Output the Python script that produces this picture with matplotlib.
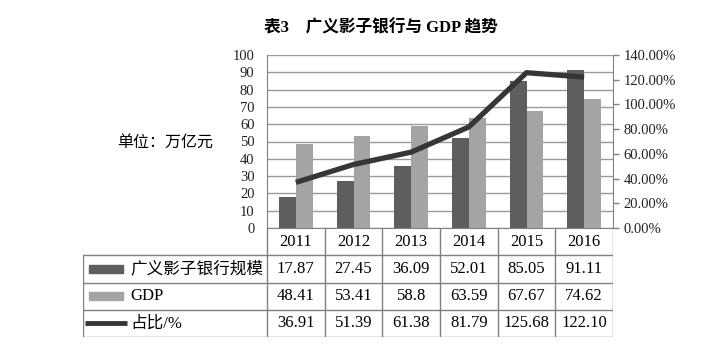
import numpy as np
import matplotlib.pyplot as plt
from matplotlib.patches import Rectangle

plt.rcParams['font.family'] = ['Liberation Serif', 'Noto Sans CJK SC']

years = ['2011', '2012', '2013', '2014', '2015', '2016']
shadow_bank = [17.87, 27.45, 36.09, 52.01, 85.05, 91.11]
gdp = [48.41, 53.41, 58.8, 63.59, 67.67, 74.62]
ratio = [36.91, 51.39, 61.38, 81.79, 125.68, 122.10]

row_names = ['广义影子银行规模', 'GDP', '占比/%']
dark = '#5e5e5e'
light = '#a4a4a4'
line_c = '#363636'
grid_c = '#9a9a9a'
edge_c = '#808080'

W, H = 704, 359
fig = plt.figure(figsize=(W / 100, H / 100), dpi=100)

def fx(px):
    return px / W

def fy(py):
    return 1 - py / H

x = np.arange(len(years))
bw = 0.29

ax = fig.add_axes([fx(267), fy(228), fx(613) - fx(267), fy(55) - fy(228)])
ax.bar(x - bw / 2, shadow_bank, bw, color=dark, zorder=2)
ax.bar(x + bw / 2, gdp, bw, color=light, zorder=2)
ax.set_xlim(-0.5, len(years) - 0.5)
ax.set_ylim(0, 100)
ax.set_yticks(range(0, 101, 10))
ax.set_xticks([])
ax.yaxis.grid(True, color=grid_c, lw=1)
ax.set_axisbelow(True)
ax.tick_params(axis='y', length=0, pad=9, labelsize=10.5, labelcolor='#222')
for s in ['top', 'right']:
    ax.spines[s].set_visible(False)
for s in ['left', 'bottom']:
    ax.spines[s].set_color(edge_c)

ax2 = ax.twinx()
ax2.plot(x, ratio, color=line_c, lw=3.8, solid_capstyle='butt', zorder=3)
ax2.set_ylim(0, 140)
ax2.set_yticks(range(0, 141, 20))
ax2.set_yticklabels([f'{v:.2f}%' for v in range(0, 141, 20)])
ax2.tick_params(axis='y', length=4.5, width=1, color=edge_c, pad=3,
                labelsize=10.5, labelcolor='#222')
for s in ['top', 'left', 'bottom']:
    ax2.spines[s].set_visible(False)
ax2.spines['right'].set_color(edge_c)

# data table below the plot
col_w = fx(613) - fx(267)
lab_cols = (267 - 83) / ((613 - 267) / len(years))
tax = fig.add_axes([fx(83), fy(337), fx(613) - fx(83), fy(228) - fy(337)])
left = -0.5 - lab_cols
right = len(years) - 0.5
tax.set_xlim(left, right)
tax.set_ylim(4, 0)
tax.axis('off')

for c in range(len(years) + 1):
    tax.plot([c - 0.5, c - 0.5], [0, 4], color=edge_c, lw=1)
tax.plot([left, left], [1, 4], color=edge_c, lw=1)
for r in range(1, 5):
    tax.plot([left, right], [r, r], color=edge_c, lw=1)

fs = 12
for i, yr in enumerate(years):
    tax.text(i, 0.5, yr, ha='center', va='center', fontsize=fs)
    tax.text(i, 1.5, str(shadow_bank[i]), ha='center', va='center', fontsize=fs)
    tax.text(i, 2.5, str(gdp[i]), ha='center', va='center', fontsize=fs)
    tax.text(i, 3.5, f'{ratio[i]:.2f}', ha='center', va='center', fontsize=fs)

sw_x = left + 0.1
sw_w = 0.6
tax.add_patch(Rectangle((sw_x, 1.35), sw_w, 0.3, color=dark))
tax.add_patch(Rectangle((sw_x, 2.35), sw_w, 0.3, color=light))
tax.plot([left + 0.04, left + 0.77], [3.5, 3.5], color=line_c, lw=3.5,
         solid_capstyle='butt')
for r, name in enumerate(row_names):
    tax.text(left + 0.82, r + 1.5, name, ha='left', va='center', fontsize=fs)

fig.text(fx(165), fy(143), '单位：万亿元', ha='center', va='center', fontsize=11.5)
fig.text(fx(381), fy(28), '表3　广义影子银行与 GDP 趋势', ha='center', va='center',
         fontsize=12, fontweight='bold')

fig.savefig('out.png', dpi=100, facecolor='white')
